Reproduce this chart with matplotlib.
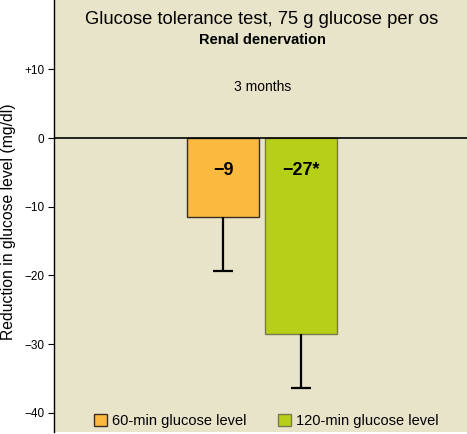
import matplotlib
matplotlib.use("Agg")
import matplotlib.pyplot as plt
from matplotlib.patches import Patch

labels = ["60-min glucose level", "120-min glucose level"]
values = [-11.5, -28.6]
errors = [7.9, 7.8]
value_text = ["\u22129", "\u221227*"]
yticks = [10, 0, -10, -20, -30, -40]
ytick_labels = ["+10", "0", "\u221210", "\u221220", "\u221230", "\u221240"]

bg = "#e8e4c9"
colors = ["#fbba3f", "#b5d016"]
edges = ["#3a3020", "#7a7a50"]

font = ["Liberation Sans", "DejaVu Sans"]
plt.rcParams["font.family"] = font


def main():
    fig = plt.figure(figsize=(4.67, 4.34), dpi=100)
    fig.patch.set_facecolor("white")
    ax = fig.add_axes([54 / 467, 2 / 434, 413 / 467, 432 / 434])
    ax.set_facecolor(bg)

    x = [0, 1]
    ax.bar(x, values, width=0.923, color=colors, edgecolor=edges,
           linewidth=1.0, zorder=2)
    # one-sided error bars, cap only at the lower end
    low = [v - e for v, e in zip(values, errors)]
    ax.vlines(x, low, values, color="black", linewidth=1.6, zorder=3)
    ax.scatter(x, low, marker="_", s=190, color="black", linewidths=1.6,
               zorder=3)
    ax.axhline(0, color="black", linewidth=1.2, zorder=4)

    for xi, t in zip(x, value_text):
        ax.text(xi, -4.7, t, ha="center", va="center", fontsize=13,
                fontweight="bold", zorder=5)

    ax.set_xlim(-2.167, 3.128)
    ax.set_ylim(-42.8, 20.1)
    ax.set_xticks([])
    ax.set_yticks(yticks)
    ax.set_yticklabels(ytick_labels, fontsize=8.5)
    ax.tick_params(axis="y", direction="out", length=4, width=0.8, pad=3)
    for s in ["top", "right", "bottom"]:
        ax.spines[s].set_visible(False)
    ax.spines["left"].set_linewidth(1.0)

    fig.text(262 / 467, 1 - 20 / 434,
             "Glucose tolerance test, 75 g glucose per os",
             ha="center", va="center", fontsize=13.2)
    fig.text(262 / 467, 1 - 40 / 434, "Renal denervation", ha="center",
             va="center", fontsize=10.5, fontweight="bold")
    fig.text(263 / 467, 1 - 87 / 434, "3 months", ha="center",
             va="center", fontsize=10)

    fig.text(9 / 467, 1 - 222 / 434, "Reduction in glucose level (mg/dl)",
             rotation=90, ha="center", va="center", fontsize=11.3)

    handles = [Patch(facecolor=c, edgecolor=e) for c, e in zip(colors, edges)]
    ax.legend(handles, labels, loc="lower center", ncol=2, frameon=False,
              fontsize=10.5, bbox_to_anchor=(0.514, -0.022),
              handlelength=0.9, handleheight=0.9, handletextpad=0.3,
              columnspacing=2.2)

    fig.savefig("out.png", dpi=100)


if __name__ == "__main__":
    main()
